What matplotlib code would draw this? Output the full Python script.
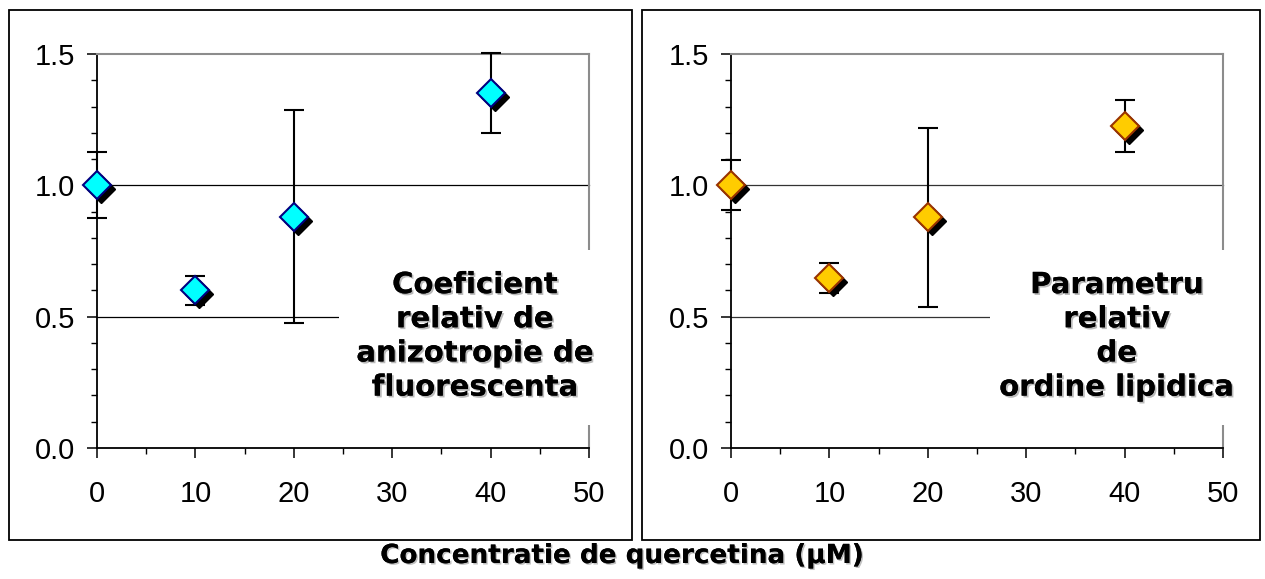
import matplotlib
matplotlib.use("Agg")
import matplotlib.pyplot as plt
from matplotlib.patches import Rectangle
from matplotlib.transforms import offset_copy
from matplotlib.ticker import MultipleLocator
import matplotlib.patheffects as pe

conc = [0, 10, 20, 40]
aniz_vals = [1.00, 0.60, 0.88, 1.35]
aniz_err = [0.125, 0.054, 0.406, 0.152]
ord_vals = [1.00, 0.646, 0.878, 1.226]
ord_err = [0.095, 0.057, 0.34, 0.10]
label_left = "Coeficient\nrelativ de\nanizotropie de\nfluorescenta"
label_right = "Parametru\nrelativ\nde\nordine lipidica"
xlabel = "Concentratie de quercetina (\u03bcM)"
xticks = [0, 10, 20, 30, 40, 50]
yticks = [0.0, 0.5, 1.0, 1.5]

W, H = 1265, 579
fig = plt.figure(figsize=(W / 100, H / 100), dpi=100)

# panel frames
for (x0, x1) in [(9, 632), (642, 1260)]:
    fig.patches.append(Rectangle((x0 / W, 1 - 540 / H), (x1 - x0) / W, (540 - 10) / H,
                                 transform=fig.transFigure, fill=False,
                                 edgecolor="black", linewidth=1.3))

def panel(left_px, vals, errs, face, edge, label, box_x0, text_x, gridcol):
    ax = fig.add_axes([left_px / W, 131 / H, 492 / W, 394 / H])
    ax.set_xlim(0, 50)
    ax.set_ylim(0, 1.5)
    for yv in [0.5, 1.0]:
        ax.plot([0, 50], [yv, yv], color=gridcol, lw=0.9, zorder=1, clip_on=False)
    for s in ["top", "right"]:
        ax.spines[s].set_color("#8c8c8c")
        ax.spines[s].set_linewidth(1.5)
    for s in ["left", "bottom"]:
        ax.spines[s].set_color("black")
        ax.spines[s].set_linewidth(1.3)
    ax.set_xticks(xticks)
    ax.set_yticks(yticks)
    ax.set_xticklabels([str(v) for v in xticks], family="Liberation Sans", fontsize=21)
    ax.set_yticklabels([f"{v:.1f}" for v in yticks], family="Liberation Sans", fontsize=21)
    ax.xaxis.set_minor_locator(MultipleLocator(5))
    ax.yaxis.set_minor_locator(MultipleLocator(0.1))
    ax.tick_params(axis="both", which="major", direction="out", length=7.5, width=1.1,
                   colors="black")
    ax.tick_params(axis="both", which="minor", direction="out", length=4.5, width=1.0)
    ax.tick_params(axis="x", which="major", pad=15.5)
    ax.tick_params(axis="y", which="major", pad=8)
    # white cover box with label
    ax.add_patch(Rectangle((box_x0, 0.088), 51.2 - box_x0, 0.755 - 0.088,
                           facecolor="white", edgecolor="none", zorder=3, clip_on=False))
    ax.text(text_x, 0.425, label, ha="center", va="center",
            fontsize=21, fontweight="bold", family="DejaVu Sans", linespacing=1.28,
            zorder=4,
            path_effects=[pe.withSimplePatchShadow(offset=(1.3, -1.3),
                                                    shadow_rgbFace="#666666", alpha=0.45),
                          pe.Normal()])
    # error bars
    ax.errorbar(conc, vals, yerr=errs, fmt="none", ecolor="black", elinewidth=1.5,
                capsize=7.5, capthick=1.5, zorder=5, clip_on=False)
    # shadow markers
    sh = offset_copy(ax.transData, fig=fig, x=4, y=-4, units="dots")
    ax.plot(conc, vals, ls="none", marker="D", ms=14, mfc="black", mec="black",
            mew=1, transform=sh, zorder=6, clip_on=False)
    ax.plot(conc, vals, ls="none", marker="D", ms=14, mfc=face, mec=edge,
            mew=1.5, zorder=7, clip_on=False)
    return ax

panel(97, aniz_vals, aniz_err, "#00ffff", "#000080", label_left, 24.6, 38.4, "black")
panel(731, ord_vals, ord_err, "#ffcc00", "#993300", label_right, 26.3, 39.2, "#333333")

fig.text(622 / W, 1 - 556 / H, xlabel, ha="center", va="center", fontsize=18.9,
         fontweight="bold", family="DejaVu Sans",
         path_effects=[pe.withSimplePatchShadow(offset=(1.1, -1.1),
                                                shadow_rgbFace="#666666", alpha=0.4),
                       pe.Normal()])

fig.savefig("out.png", dpi=100)
